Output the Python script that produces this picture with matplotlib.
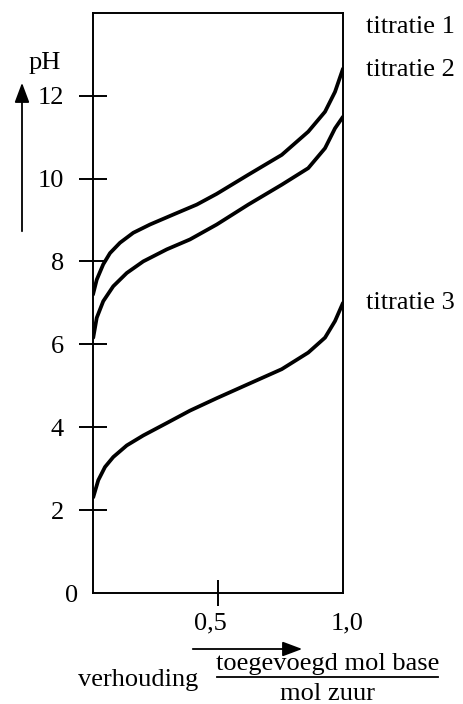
import matplotlib
matplotlib.use("Agg")
import matplotlib.pyplot as plt

plt.rcParams['font.family'] = ['Liberation Serif', 'DejaVu Serif']

# data
ratio_1 = [0.0, 0.015, 0.041, 0.068, 0.108, 0.161, 0.228, 0.321, 0.415, 0.495,
           0.621, 0.755, 0.861, 0.928, 0.968, 1.0]
ph_titratie1 = [7.2, 7.56, 7.93, 8.2, 8.45, 8.69, 8.89, 9.13, 9.37, 9.63,
                10.09, 10.57, 11.13, 11.61, 12.09, 12.65]
ratio_2 = [0.001, 0.015, 0.041, 0.081, 0.135, 0.201, 0.295, 0.388, 0.495,
           0.621, 0.755, 0.861, 0.928, 0.968, 1.0]
ph_titratie2 = [6.16, 6.64, 7.04, 7.40, 7.72, 8.0, 8.29, 8.53, 8.89,
                9.37, 9.85, 10.25, 10.73, 11.21, 11.49]
ratio_3 = [0.001, 0.021, 0.048, 0.081, 0.135, 0.201, 0.295, 0.388, 0.495,
           0.621, 0.755, 0.861, 0.928, 0.968, 1.0]
ph_titratie3 = [2.31, 2.72, 3.04, 3.28, 3.56, 3.80, 4.10, 4.40, 4.70,
                5.04, 5.40, 5.80, 6.16, 6.56, 7.0]
series_labels = ["titratie 1", "titratie 2", "titratie 3"]
ytick_vals = [2, 4, 6, 8, 10, 12]
xtick_labels = ["0,5", "1,0"]

W, H = 464, 704
fig = plt.figure(figsize=(W / 100, H / 100), dpi=100)
ax = fig.add_axes([93 / W, 1 - 593 / H, 250 / W, (593 - 12.7) / H])
ax.set_xlim(0, 1.0)
ax.set_ylim(0, 14)

for xs, ys in ((ratio_1, ph_titratie1), (ratio_2, ph_titratie2), (ratio_3, ph_titratie3)):
    ax.plot(xs, ys, color='black', lw=2.7, solid_capstyle='round', solid_joinstyle='round')

for s in ax.spines.values():
    s.set_linewidth(1.4)

FS = 19
ax.set_yticks(ytick_vals)
ax.set_yticklabels([str(v) for v in ytick_vals], fontsize=FS)
ax.tick_params(axis='y', direction='inout', length=20, width=1.4, pad=11)
ax.set_xticks([0.5])
ax.set_xticklabels([])
ax.tick_params(axis='x', direction='inout', length=19, width=1.4)

def fx(px):
    return px / W

def fy(py):
    return 1 - py / H

# x tick labels
fig.text(fx(210), fy(623), xtick_labels[0], fontsize=FS, ha='center', va='center')
fig.text(fx(347), fy(623), xtick_labels[1], fontsize=FS, ha='center', va='center')
# zero label
fig.text(fx(72), fy(596), "0", fontsize=FS, ha='center', va='center')

# pH label and arrow
fig.text(fx(45), fy(63), "pH", fontsize=FS, ha='center', va='center')
fig.add_artist(matplotlib.patches.FancyArrowPatch((fx(22), fy(234)), (fx(22), fy(80)),
               transform=fig.transFigure, arrowstyle='-|>,head_length=8,head_width=3',
               color='black', lw=1.3, mutation_scale=1.5))

# x arrow
fig.add_artist(matplotlib.patches.FancyArrowPatch((fx(190), fy(649)), (fx(305), fy(649)),
               transform=fig.transFigure, arrowstyle='-|>,head_length=8,head_width=3',
               color='black', lw=1.3, mutation_scale=1.5))

# axis title
fig.text(fx(138), fy(680), "verhouding", fontsize=FS, ha='center', va='center')
fig.text(fx(328), fy(664), "toegevoegd mol base", fontsize=FS, ha='center', va='center')
fig.add_artist(matplotlib.lines.Line2D([fx(217), fx(438)], [fy(677), fy(677)],
               transform=fig.transFigure, color='black', lw=1.3))
fig.text(fx(327), fy(694), "mol zuur", fontsize=FS, ha='center', va='center')

# series labels
fig.text(fx(366), fy(27), series_labels[0], fontsize=FS, ha='left', va='center')
fig.text(fx(366), fy(70), series_labels[1], fontsize=FS, ha='left', va='center')
fig.text(fx(366), fy(303), series_labels[2], fontsize=FS, ha='left', va='center')

fig.savefig("out.png", dpi=100)
